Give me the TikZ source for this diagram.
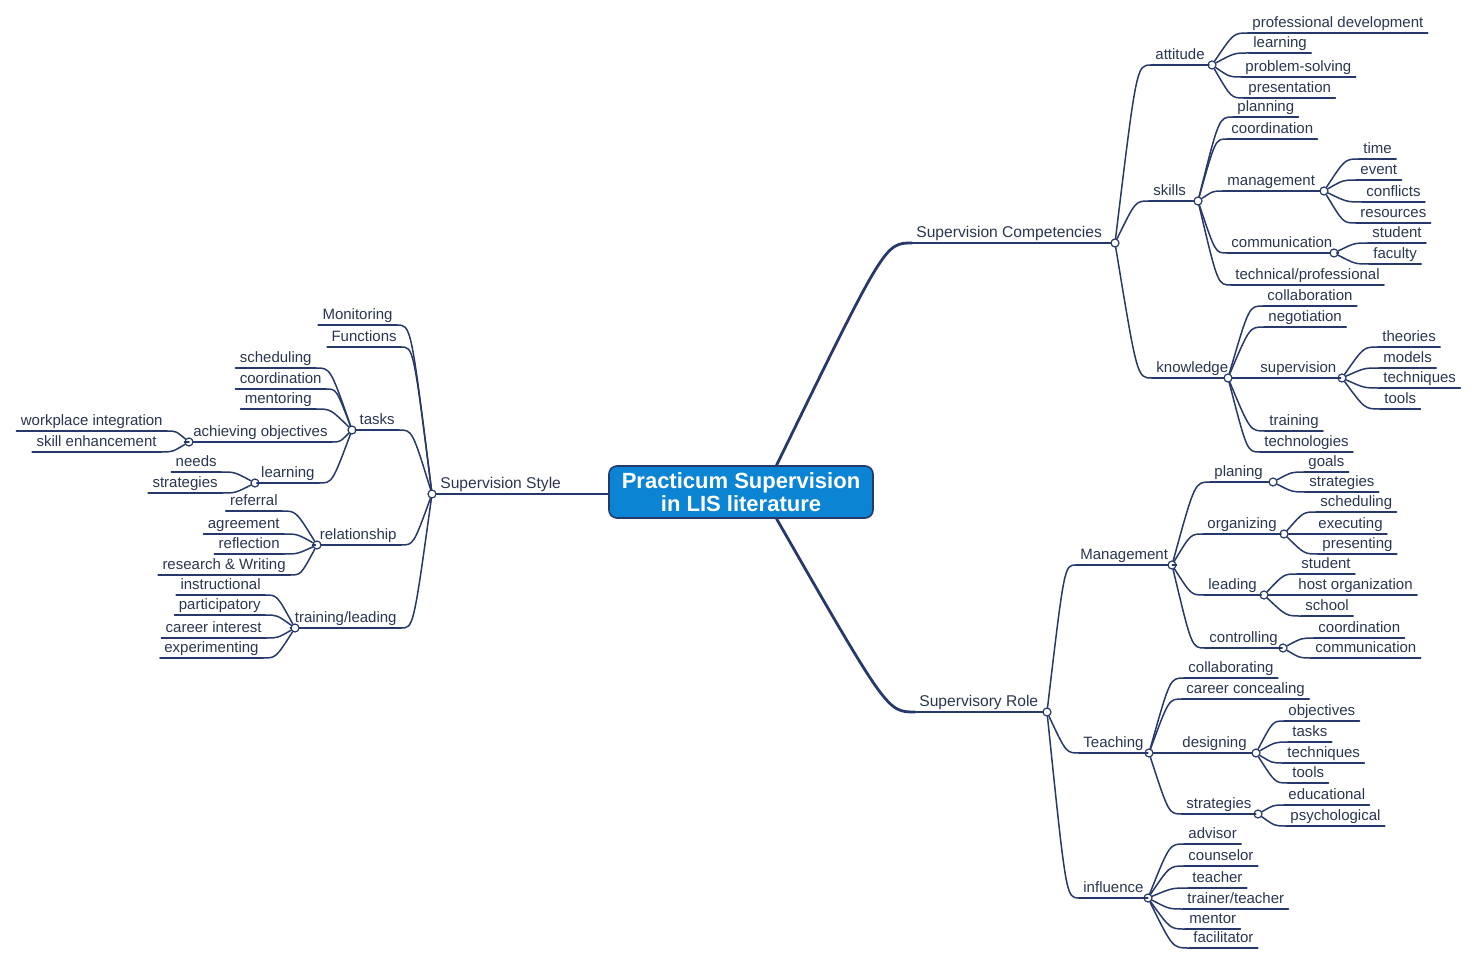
\documentclass[tikz,border=0pt]{standalone}
\usepackage{fontspec}
\setmainfont{Liberation Sans}
\usetikzlibrary{calc}
\definecolor{mapline}{HTML}{27396A}
\definecolor{maptext}{HTML}{2A3552}
\definecolor{rootfill}{HTML}{0B84D3}
\tikzset{
	wire/.style={draw=mapline, line width=0.75pt},
	link/.style={wire, to path={.. controls ($(\tikztostart |- \tikztotarget)!#1!(\tikztotarget)$) .. (\tikztotarget)}},
	link/.default=0.6,
	trunk/.style={line width=1.4pt},
	topic/.style={font=\fontsize{7.5}{9}\selectfont, text=maptext, inner xsep=2pt, inner ysep=1.1pt,
		text height=5.5pt, text depth=1.3pt,
		append after command={(\tikzlastnode.south west) edge[wire] (\tikzlastnode.south east)}},
	rt/.style={topic, anchor=south west},
	lt/.style={topic, anchor=south east},
	main/.style={font=\fontsize{7.8}{9}\selectfont},
	knot/.style={circle, draw=mapline, fill=white, line width=0.6pt, inner sep=0pt, minimum size=4pt},
	root/.style={rectangle, rounded corners=4pt, fill=rootfill, draw=mapline, line width=0.8pt,
		minimum width=132pt, minimum height=26pt, inner sep=0pt, align=center, text=white,
		font=\bfseries\fontsize{11}{11.5}\selectfont}
}
\begin{document}
\begin{tikzpicture}[x=0.5pt, y=-0.5pt, line join=round, line cap=round]
	\useasboundingbox (0,0) rectangle (1472,973);
	\node[root] (root) at (741,492) {Practicum Supervision\\in LIS literature};
	% main branches
	\node[rt, main] (sc) at (912,243) {Supervision Competencies};
	\node[knot] (sck) at (1115,243) {};
	\node[rt, main] (sr) at (915,712) {Supervisory Role};
	\node[knot] (srk) at (1047,712) {};
	\node[rt, main] (ss) at (436,494) {Supervision Style};
	\node[knot] (ssk) at (432,494) {};
	% competencies
	\node[rt] (att) at (1151,65) {attitude};
	\node[knot] (attk) at (1212,65) {};
	\node[rt] (skl) at (1149,201) {skills};
	\node[knot] (sklk) at (1198,201) {};
	\node[rt] (knw) at (1152,378) {knowledge};
	\node[knot] (knwk) at (1228,378) {};
	\node[rt] (att1) at (1248,33) {professional development};
	\node[rt] (att2) at (1249,53) {learning};
	\node[rt] (att3) at (1241,77) {problem-solving};
	\node[rt] (att4) at (1244,98) {presentation};
	\node[rt] (skl1) at (1233,117) {planning};
	\node[rt] (skl2) at (1227,139) {coordination};
	\node[rt] (mgt) at (1223,191) {management};
	\node[knot] (mgtk) at (1324,191) {};
	\node[rt] (com) at (1227,253) {communication};
	\node[knot] (comk) at (1334,253) {};
	\node[rt] (skl5) at (1231,285) {technical/professional};
	\node[rt] (mgt1) at (1359,159) {time};
	\node[rt] (mgt2) at (1356,180) {event};
	\node[rt] (mgt3) at (1362,202) {conflicts};
	\node[rt] (mgt4) at (1356,223) {resources};
	\node[rt] (com1) at (1368,243) {student};
	\node[rt] (com2) at (1369,264) {faculty};
	\node[rt] (knw1) at (1263,306) {collaboration};
	\node[rt] (knw2) at (1264,327) {negotiation};
	\node[rt] (sup) at (1256,378) {supervision};
	\node[knot] (supk) at (1342,378) {};
	\node[rt] (knw4) at (1265,431) {training};
	\node[rt] (knw5) at (1260,452) {technologies};
	\node[rt] (sup1) at (1378,347) {theories};
	\node[rt] (sup2) at (1379,368) {models};
	\node[rt] (sup3) at (1379,388) {techniques};
	\node[rt] (sup4) at (1380,409) {tools};
	% supervisory role
	\node[rt] (man) at (1076,565) {Management};
	\node[knot] (mank) at (1172,565) {};
	\node[rt] (tea) at (1079,753) {Teaching};
	\node[knot] (teak) at (1149,753) {};
	\node[rt] (inf) at (1079,898) {influence};
	\node[knot] (infk) at (1148,898) {};
	\node[rt] (pla) at (1210,482) {planing};
	\node[knot] (plak) at (1273,482) {};
	\node[rt] (org) at (1203,534) {organizing};
	\node[knot] (orgk) at (1284,534) {};
	\node[rt] (lea) at (1204,595) {leading};
	\node[knot] (leak) at (1264,595) {};
	\node[rt] (con) at (1205,648) {controlling};
	\node[knot] (conk) at (1283,648) {};
	\node[rt] (pla1) at (1304,472) {goals};
	\node[rt] (pla2) at (1305,492) {strategies};
	\node[rt] (org1) at (1316,512) {scheduling};
	\node[rt] (org2) at (1314,534) {executing};
	\node[rt] (org3) at (1318,554) {presenting};
	\node[rt] (lea1) at (1297,574) {student};
	\node[rt] (lea2) at (1294,595) {host organization};
	\node[rt] (lea3) at (1301,616) {school};
	\node[rt] (con1) at (1314,638) {coordination};
	\node[rt] (con2) at (1311,658) {communication};
	\node[rt] (tea1) at (1184,678) {collaborating};
	\node[rt] (tea2) at (1182,699) {career concealing};
	\node[rt] (des) at (1178,753) {designing};
	\node[knot] (desk) at (1256,753) {};
	\node[rt] (str) at (1182,814) {strategies};
	\node[knot] (strk) at (1258,814) {};
	\node[rt] (des1) at (1284,721) {objectives};
	\node[rt] (des2) at (1288,742) {tasks};
	\node[rt] (des3) at (1283,763) {techniques};
	\node[rt] (des4) at (1288,783) {tools};
	\node[rt] (str1) at (1284,805) {educational};
	\node[rt] (str2) at (1286,826) {psychological};
	\node[rt] (inf1) at (1184,844) {advisor};
	\node[rt] (inf2) at (1184,866) {counselor};
	\node[rt] (inf3) at (1188,888) {teacher};
	\node[rt] (inf4) at (1183,909) {trainer/teacher};
	\node[rt] (inf5) at (1185,929) {mentor};
	\node[rt] (inf6) at (1189,948) {facilitator};
	% supervision style
	\node[lt] (ss1) at (397,325) {Monitoring};
	\node[lt] (ss2) at (401,347) {Functions};
	\node[lt] (tsk) at (399,430) {tasks};
	\node[knot] (tskk) at (352,430) {};
	\node[lt] (rel) at (401,545) {relationship};
	\node[knot] (relk) at (317,545) {};
	\node[lt] (trn) at (401,628) {training/leading};
	\node[knot] (trnk) at (295,628) {};
	\node[lt] (tsk1) at (316,368) {scheduling};
	\node[lt] (tsk2) at (326,389) {coordination};
	\node[lt] (tsk3) at (316,409) {mentoring};
	\node[lt] (ach) at (332,442) {achieving objectives};
	\node[knot] (achk) at (189,442) {};
	\node[lt] (lrn) at (319,483) {learning};
	\node[knot] (lrnk) at (255,483) {};
	\node[lt] (ach1) at (167,431) {workplace integration};
	\node[lt] (ach2) at (161,452) {skill enhancement};
	\node[lt] (lrn1) at (221,472) {needs};
	\node[lt] (lrn2) at (222,493) {strategies};
	\node[lt] (rel1) at (282,511) {referral};
	\node[lt] (rel2) at (284,534) {agreement};
	\node[lt] (rel3) at (284,554) {reflection};
	\node[lt] (rel4) at (290,575) {research \& Writing};
	\node[lt] (trn1) at (265,595) {instructional};
	\node[lt] (trn2) at (265,615) {participatory};
	\node[lt] (trn3) at (266,638) {career interest};
	\node[lt] (trn4) at (263,658) {experimenting};
	%
	\draw[link=0.8, trunk] (root.37) to (sc.south west);
	\draw[link=0.8, trunk] (root.-37) to (sr.south west);
	\draw[wire, trunk] (ssk) -- (ssk -| root.west);
	\draw[wire] (sc.south east) -- (sck) (sr.south east) -- (srk)
	(att.south east) -- (attk) (skl.south east) -- (sklk) (knw.south east) -- (knwk)
	(mgt.south east) -- (mgtk) (com.south east) -- (comk) (sup.south east) -- (supk)
	(man.south east) -- (mank) (tea.south east) -- (teak) (inf.south east) -- (infk)
	(pla.south east) -- (plak) (org.south east) -- (orgk) (lea.south east) -- (leak)
	(con.south east) -- (conk) (des.south east) -- (desk) (str.south east) -- (strk)
	(tsk.south west) -- (tskk) (rel.south west) -- (relk) (trn.south west) -- (trnk)
	(ach.south west) -- (achk) (lrn.south west) -- (lrnk);
	% right links
	\draw[link] (sck) to (att.south west);
	\draw[link] (sck) to (skl.south west);
	\draw[link] (sck) to (knw.south west);
	\draw[link] (attk) to (att1.south west);
	\draw[link] (attk) to (att2.south west);
	\draw[link] (attk) to (att3.south west);
	\draw[link] (attk) to (att4.south west);
	\draw[link] (sklk) to (skl1.south west);
	\draw[link] (sklk) to (skl2.south west);
	\draw[link] (sklk) to (mgt.south west);
	\draw[link] (sklk) to (com.south west);
	\draw[link] (sklk) to (skl5.south west);
	\draw[link] (mgtk) to (mgt1.south west);
	\draw[link] (mgtk) to (mgt2.south west);
	\draw[link] (mgtk) to (mgt3.south west);
	\draw[link] (mgtk) to (mgt4.south west);
	\draw[link] (comk) to (com1.south west);
	\draw[link] (comk) to (com2.south west);
	\draw[link] (knwk) to (knw1.south west);
	\draw[link] (knwk) to (knw2.south west);
	\draw[link] (knwk) to (sup.south west);
	\draw[link] (knwk) to (knw4.south west);
	\draw[link] (knwk) to (knw5.south west);
	\draw[link] (supk) to (sup1.south west);
	\draw[link] (supk) to (sup2.south west);
	\draw[link] (supk) to (sup3.south west);
	\draw[link] (supk) to (sup4.south west);
	\draw[link] (srk) to (man.south west);
	\draw[link] (srk) to (tea.south west);
	\draw[link] (srk) to (inf.south west);
	\draw[link] (mank) to (pla.south west);
	\draw[link] (mank) to (org.south west);
	\draw[link] (mank) to (lea.south west);
	\draw[link] (mank) to (con.south west);
	\draw[link] (plak) to (pla1.south west);
	\draw[link] (plak) to (pla2.south west);
	\draw[link] (orgk) to (org1.south west);
	\draw[link] (orgk) to (org2.south west);
	\draw[link] (orgk) to (org3.south west);
	\draw[link] (leak) to (lea1.south west);
	\draw[link] (leak) to (lea2.south west);
	\draw[link] (leak) to (lea3.south west);
	\draw[link] (conk) to (con1.south west);
	\draw[link] (conk) to (con2.south west);
	\draw[link] (teak) to (tea1.south west);
	\draw[link] (teak) to (tea2.south west);
	\draw[link] (teak) to (des.south west);
	\draw[link] (teak) to (str.south west);
	\draw[link] (desk) to (des1.south west);
	\draw[link] (desk) to (des2.south west);
	\draw[link] (desk) to (des3.south west);
	\draw[link] (desk) to (des4.south west);
	\draw[link] (strk) to (str1.south west);
	\draw[link] (strk) to (str2.south west);
	\draw[link] (infk) to (inf1.south west);
	\draw[link] (infk) to (inf2.south west);
	\draw[link] (infk) to (inf3.south west);
	\draw[link] (infk) to (inf4.south west);
	\draw[link] (infk) to (inf5.south west);
	\draw[link] (infk) to (inf6.south west);
	% left links
	\draw[link] (ssk) to (ss1.south east);
	\draw[link] (ssk) to (ss2.south east);
	\draw[link] (ssk) to (tsk.south east);
	\draw[link] (ssk) to (rel.south east);
	\draw[link] (ssk) to (trn.south east);
	\draw[link] (tskk) to (tsk1.south east);
	\draw[link] (tskk) to (tsk2.south east);
	\draw[link] (tskk) to (tsk3.south east);
	\draw[link] (tskk) to (ach.south east);
	\draw[link] (tskk) to (lrn.south east);
	\draw[link] (achk) to (ach1.south east);
	\draw[link] (achk) to (ach2.south east);
	\draw[link] (lrnk) to (lrn1.south east);
	\draw[link] (lrnk) to (lrn2.south east);
	\draw[link] (relk) to (rel1.south east);
	\draw[link] (relk) to (rel2.south east);
	\draw[link] (relk) to (rel3.south east);
	\draw[link] (relk) to (rel4.south east);
	\draw[link] (trnk) to (trn1.south east);
	\draw[link] (trnk) to (trn2.south east);
	\draw[link] (trnk) to (trn3.south east);
	\draw[link] (trnk) to (trn4.south east);
\end{tikzpicture}
\end{document}
